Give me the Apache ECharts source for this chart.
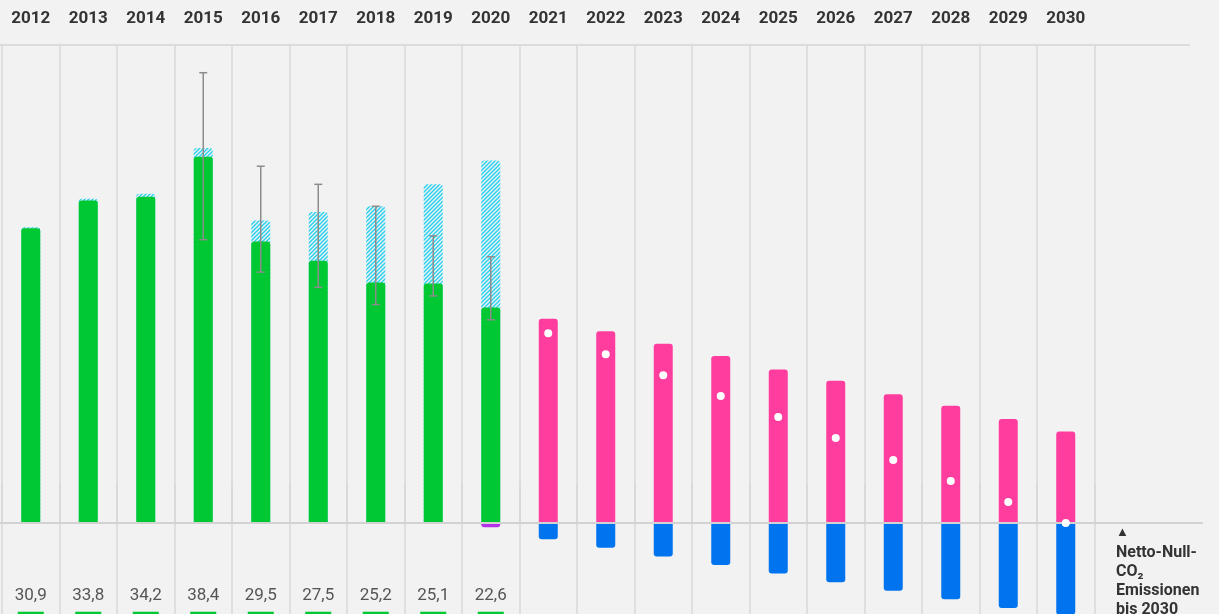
<!DOCTYPE html>
<html>
<head>
<meta charset="utf-8">
<script src="https://cdn.jsdelivr.net/npm/echarts@6/dist/echarts.min.js"></script>
<style>
  html, body { margin: 0; background: #f2f2f2; }
  #chart { width: 1219px; height: 614px; }
</style>
</head>
<body>
<div id="chart"></div>
<script>
var years = ['2012', '2013', '2014', '2015', '2016', '2017', '2018', '2019', '2020',
  '2021', '2022', '2023', '2024', '2025', '2026', '2027', '2028', '2029', '2030']
// Emissionen (Mt CO2) 2012-2020
var emissions = [30.9, 33.8, 34.2, 38.4, 29.5, 27.5, 25.2, 25.1, 22.6, null, null, null, null, null, null, null, null, null, null]
// schraffierter Anteil (Oberkante)
var hatchedTop = [31.0, 34.0, 34.5, 39.3, 31.7, 32.6, 33.2, 35.5, 38.0, null, null, null, null, null, null, null, null, null, null]
// Fehlerbalken
var errLow = [null, null, null, 29.7, 26.3, 24.7, 22.9, 23.8, 21.3, null, null, null, null, null, null, null, null, null, null]
var errHigh = [null, null, null, 47.2, 37.4, 35.5, 33.2, 30.1, 27.9, null, null, null, null, null, null, null, null, null, null]
var sink2020 = [null, null, null, null, null, null, null, null, -0.45, null, null, null, null, null, null, null, null, null, null]
// Pfad 2021-2030
var pathEmissions = [null, null, null, null, null, null, null, null, null, 21.4, 20.1, 18.8, 17.5, 16.1, 14.9, 13.5, 12.3, 10.9, 9.6]
var removals = [null, null, null, null, null, null, null, null, null, -1.7, -2.6, -3.5, -4.4, -5.3, -6.2, -7.1, -8.0, -8.9, -9.6]
var netValues = [null, null, null, null, null, null, null, null, null, 19.9, 17.7, 15.5, 13.3, 11.1, 8.9, 6.6, 4.4, 2.2, 0]

var font = 'Roboto, "Liberation Sans", sans-serif'
var lineColor = '#d9d9d9'

function hatchPattern() {
  var c = document.createElement('canvas')
  c.width = 4
  c.height = 4
  var ctx = c.getContext('2d')
  ctx.strokeStyle = '#2ad2f0'
  ctx.lineWidth = 1.5
  ctx.beginPath()
  ctx.moveTo(0, 4); ctx.lineTo(4, 0)
  ctx.moveTo(-1, 1); ctx.lineTo(1, -1)
  ctx.moveTo(3, 5); ctx.lineTo(5, 3)
  ctx.stroke()
  return c
}

var valueLabels = emissions.map(function (v) {
  return v == null ? '' : v.toFixed(1).replace('.', ',')
})
var errData = []
errLow.forEach(function (lo, i) {
  if (lo != null) errData.push([i, lo, errHigh[i]])
})
var dotData = netValues.map(function (v, i) { return v == null ? null : [i, v] }).filter(function (d) { return d })

var myChart = echarts.init(document.getElementById('chart'))

var barCommon = { type: 'bar', barWidth: 19, barGap: '-100%' }

var option = {
  backgroundColor: '#f2f2f2',
  animation: false,
  grid: { left: 2, right: 124.5, top: 46, height: 572.4, containLabel: false, outerBoundsMode: 'none' },
  xAxis: [
    {
      type: 'category',
      position: 'top',
      data: years,
      axisLine: { show: false },
      axisTick: { show: true, interval: 0, length: 40, lineStyle: { color: lineColor, width: 1.5 } },
      axisLabel: { interval: 0, margin: 27, verticalAlign: 'middle', color: '#333', fontWeight: 'bold', fontSize: 17, fontFamily: font },
      splitLine: { show: true, interval: 0, lineStyle: { color: lineColor, width: 1.5 } }
    },
    {
      type: 'category',
      position: 'bottom',
      offset: -22.4,
      data: valueLabels,
      axisLine: { show: false },
      axisTick: { show: false },
      axisLabel: { interval: 0, margin: 0, verticalAlign: 'middle', color: '#555', fontSize: 17, fontFamily: font }
    },
    {
      type: 'category',
      position: 'bottom',
      offset: -6.7,
      data: valueLabels,
      axisLine: { show: false },
      axisTick: { show: false },
      axisLabel: {
        interval: 0, margin: 0, verticalAlign: 'top',
        formatter: function (v) { return v ? '{m|}' : '' },
        rich: { m: { width: 26, height: 8, backgroundColor: '#00c832' } }
      }
    }
  ],
  yAxis: { type: 'value', min: -10, max: 50, show: false, splitLine: { show: false } },
  series: [
    Object.assign({}, barCommon, {
      name: 'schraffiert', data: hatchedTop, z: 2,
      itemStyle: { color: { image: hatchPattern(), repeat: 'repeat' }, borderRadius: [3, 3, 0, 0] }
    }),
    Object.assign({}, barCommon, {
      name: 'Emissionen', data: emissions, z: 3,
      itemStyle: { color: '#00c832', borderRadius: [3, 3, 0, 0] }
    }),
    Object.assign({}, barCommon, {
      name: 'Senke 2020', data: sink2020, z: 3,
      itemStyle: { color: '#b331e6', borderRadius: [0, 0, 3, 3] }
    }),
    Object.assign({}, barCommon, {
      name: 'Pfad', data: pathEmissions, z: 3,
      itemStyle: { color: '#ff3d9e', borderRadius: [3, 3, 0, 0] }
    }),
    Object.assign({}, barCommon, {
      name: 'Entnahme', data: removals, z: 3,
      itemStyle: { color: '#0073ee', borderRadius: [0, 0, 3, 3] }
    }),
    {
      type: 'custom',
      name: 'Unsicherheit',
      data: errData,
      encode: { x: 0, y: [1, 2] },
      z: 5,
      renderItem: function (params, api) {
        var lo = api.coord([api.value(0), api.value(1)])
        var hi = api.coord([api.value(0), api.value(2)])
        var w = 4
        var st = { stroke: '#8c8c8c', lineWidth: 1.5 }
        return {
          type: 'group',
          children: [
            { type: 'line', shape: { x1: hi[0], y1: hi[1], x2: lo[0], y2: lo[1] }, style: st },
            { type: 'line', shape: { x1: hi[0] - w, y1: hi[1], x2: hi[0] + w, y2: hi[1] }, style: st },
            { type: 'line', shape: { x1: lo[0] - w, y1: lo[1], x2: lo[0] + w, y2: lo[1] }, style: st }
          ]
        }
      }
    },
    {
      type: 'scatter',
      name: 'Netto',
      data: dotData,
      symbolSize: 8,
      z: 7,
      itemStyle: { color: '#ffffff', opacity: 1 }
    }
  ]
}

myChart.setOption(option)

// Linien über die Rasterbreite hinaus + Beschriftung rechts
var y0 = myChart.convertToPixel({ yAxisIndex: 0 }, 0)
myChart.setOption({
  graphic: [
    { type: 'line', z: 1, shape: { x1: 0, y1: 45, x2: 1190, y2: 45 }, style: { stroke: '#dcdcdc', lineWidth: 2 } },
    { type: 'line', z: 4, shape: { x1: 0, y1: y0, x2: 1203, y2: y0 }, style: { stroke: '#d2d2d2', lineWidth: 2 } },
    { type: 'text', left: 1116, top: 526, style: { text: '▲', fill: '#333', font: 'bold 13px ' + font } },
    {
      type: 'text', left: 1116, top: 543.5,
      style: { text: 'Netto-Null-\nCO₂\nEmissionen\nbis 2030', fill: '#333', font: 'bold 16px ' + font, lineHeight: 19 }
    }
  ]
})
</script>
</body>
</html>
